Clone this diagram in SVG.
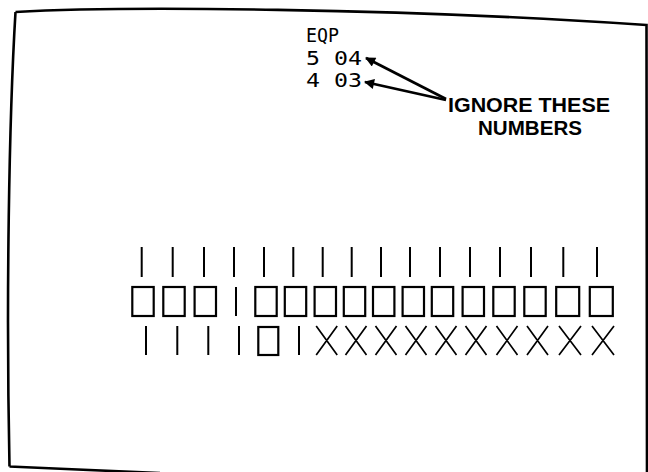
<svg xmlns="http://www.w3.org/2000/svg" width="648" height="472" viewBox="0 0 648 472">
<defs>
<style>
.ln{stroke:#000;stroke-width:2;fill:none;stroke-linecap:butt}
.bx{stroke:#000;stroke-width:2.2;fill:none}
.x{stroke:#000;stroke-width:1.7;fill:none}
.seg{font-family:"DejaVu Sans Mono","Liberation Mono",monospace;font-size:20px;fill:#000}
.lbl{font-family:"Liberation Sans",Arial,sans-serif;font-weight:bold;font-size:20px;fill:#000;text-anchor:middle}
</style>
<marker id="ah" viewBox="0 0 10 10" refX="9" refY="5" markerWidth="5.5" markerHeight="3.6" markerUnits="strokeWidth" orient="auto">
<path d="M0,0 L10,5 L0,10 Z" fill="#000"/>
</marker>
</defs>
<rect width="648" height="472" fill="#fff"/>
<g id="screen">
<path d="M15.5,12 C120,6 400,8 646.5,25 L647,472 M9.5,466.5 C60,469 120,471 160,473 M15.5,12 C9,120 6,300 9.5,466.5" fill="none" stroke="#000" stroke-width="2.6"/>
</g>
<g id="readout">
<text class="seg" x="306" y="42" textLength="33" lengthAdjust="spacingAndGlyphs">EQP</text>
<text class="seg" x="306" y="65" textLength="56" lengthAdjust="spacingAndGlyphs">5 04</text>
<text class="seg" x="306" y="87" textLength="56" lengthAdjust="spacingAndGlyphs">4 03</text>
</g>
<g id="label">
<text class="lbl" x="529" y="112" textLength="162" lengthAdjust="spacingAndGlyphs">IGNORE THESE</text>
<text class="lbl" x="530" y="135" textLength="104" lengthAdjust="spacingAndGlyphs">NUMBERS</text>
</g>
<g id="connectors">
<line x1="446" y1="99" x2="366" y2="58" stroke="#000" stroke-width="2.8" marker-end="url(#ah)"/>
<line x1="446" y1="100" x2="365" y2="82" stroke="#000" stroke-width="2.8" marker-end="url(#ah)"/>
</g>
<g id="top-row">
<path class="ln" d="M141.7,247V277M172.7,247V277M204,247V277M234,247V277M264,247V277M293.3,247V277M322.7,247V277M351.7,247V277M381,247V277M410,247V277M440,247V277M470,247V277M500,247V277M531,247V277M563.3,247V277M597,247V277"/>
</g>
<g id="middle-row">
<rect class="bx" x="132.3" y="287" width="21.4" height="29"/>
<rect class="bx" x="163.3" y="287" width="21.4" height="29"/>
<rect class="bx" x="194.6" y="287" width="21.4" height="29"/>
<path class="ln" d="M236,287V316"/>
<rect class="bx" x="255.3" y="287" width="21.4" height="29"/>
<rect class="bx" x="284.8" y="287" width="21.4" height="29"/>
<rect class="bx" x="314.6" y="287" width="21.4" height="29"/>
<rect class="bx" x="343.8" y="287" width="21.4" height="29"/>
<rect class="bx" x="373" y="287" width="21.4" height="29"/>
<rect class="bx" x="402.6" y="287" width="21.4" height="29"/>
<rect class="bx" x="431.8" y="287" width="21.4" height="29"/>
<rect class="bx" x="462.6" y="287" width="21.4" height="29"/>
<rect class="bx" x="493.3" y="287" width="21.4" height="29"/>
<rect class="bx" x="524.3" y="287" width="21.4" height="29"/>
<rect class="bx" x="556.2" y="287" width="23" height="29"/>
<rect class="bx" x="589.8" y="287" width="23" height="29"/>
</g>
<g id="bottom-row">
<path class="ln" d="M146,326V355M177.3,326V355M208.3,326V355M239,326V355M299,326V355"/>
<rect class="bx" x="258.3" y="327" width="20" height="28"/>
<path class="x" d="M316.2,326L337.2,355M337.2,326L316.2,355 M345.5,326L366.5,355M366.5,326L345.5,355 M375.5,326L396.5,355M396.5,326L375.5,355 M405.5,326L426.5,355M426.5,326L405.5,355 M435.5,326L456.5,355M456.5,326L435.5,355 M465.5,326L486.5,355M486.5,326L465.5,355 M496.5,326L517.5,355M517.5,326L496.5,355 M527,326L548,355M548,326L527,355 M559,326L581,355M581,326L559,355 M592,326L614,355M614,326L592,355"/>
</g>
</svg>
